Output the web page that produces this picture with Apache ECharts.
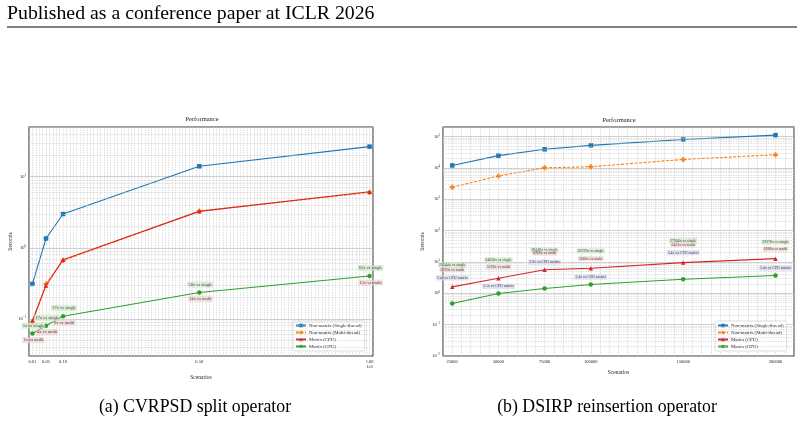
<!DOCTYPE html>
<html><head><meta charset="utf-8">
<script src="https://cdn.jsdelivr.net/npm/echarts@6/dist/echarts.min.js"></script>
<style>html,body{margin:0;padding:0;background:#fff}#c{width:804px;height:423px}</style>
</head><body><div id="c"></div>
<script>
// ---------- (a) CVRPSD split operator ----------
const aScenarios = [0.01, 0.05, 0.10, 0.50, 1.00]; // x 1e6
const aSingle = [0.31, 1.35, 2.98, 14.0, 26.5];
const aMulti  = [0.090, 0.31, 0.66, 3.3, 6.0];
const aCPU    = [0.094, 0.295, 0.68, 3.25, 6.15];
const aGPU    = [0.062, 0.080, 0.109, 0.235, 0.40];
const aVsSingle = ['5x vs single', '17x vs single', '27x vs single', '58x vs single', '65x vs single'];
const aVsMulti  = ['1x vs multi', '4x vs multi', '6x vs multi', '14x vs multi', '15x vs multi'];
const aTickLabels = ['0.01', '0.05', '0.10', '0.50', '1.00'];

// ---------- (b) DSIRP reinsertion operator ----------
const bScenarios = [25000, 50000, 75000, 100000, 150000, 200000];
const bSingle = [11900, 24400, 38900, 52000, 80000, 110000];
const bMulti  = [2380, 5500, 10000, 10800, 18500, 26000];
const bCPU    = [1.6, 3.0, 5.6, 6.3, 9.5, 12.7];
const bGPU    = [0.47, 0.98, 1.42, 1.9, 2.8, 3.7];
const bVsSingle = ['25344x vs single', '24636x vs single', '28448x vs single', '26739x vs single', '27946x vs single', '29370x vs single'];
const bVsMulti  = ['5070x vs multi', '5578x vs multi', '6968x vs multi', '5666x vs multi', '6431x vs multi', '6986x vs multi'];
const bVsCPU    = ['3.4x vs CPU matrix', '3.1x vs CPU matrix', '3.9x vs CPU matrix', '3.4x vs CPU matrix', '3.4x vs CPU matrix', '3.4x vs CPU matrix'];
const bTickLabels = ['25000', '50000', '75000', '100000', '150000', '200000'];

const seriesNames = ['Non-matrix (Single-thread)', 'Non-matrix (Multi-thread)', 'Matrix (CPU)', 'Matrix (GPU)'];

// ---------- styling / layout ----------
const SERIF = "'Liberation Serif', 'DejaVu Serif', serif";
const COLORS = ['#1f77b4', '#ff7f0e', '#d62728', '#2ca02c'];
const SYMBOLS = ['rect', 'path://M3,0H7V3H10V7H7V10H3V7H0V3H3Z', 'triangle', 'circle'];
const BG_SINGLE = 'rgba(205,232,200,0.85)';
const BG_MULTI = 'rgba(240,210,210,0.85)';
const BG_CPU = 'rgba(215,215,240,0.9)';
// label offsets (px)
const aOffSingle = [1, -8], aOffMulti = [1, 6.5];
const bOffSingle = [[0,-22],[0,-18.4],[0,-20],[0,-17.4],[0,-22],[0,-16.6]];
const bOffMulti  = [[0,-17],[0,-11.4],[0,-16.6],[0,-9.7],[0,-18],[0,-9.6]];
const bOffCPU    = [[0,-9],[0,8],[0,-7.6],[0,9],[0,-10],[0,9.4]];

function pairs(xs, ys) { return xs.map((x, i) => [x, ys[i]]); }
function annItems(xs, ys, texts, offs, bg) {
  return xs.map((x, i) => ({
    value: [x, ys[i]],
    label: { formatter: texts[i], offset: Array.isArray(offs[0]) ? offs[i] : offs, backgroundColor: bg }
  }));
}
function minorLogLines(lo, hi) {
  const out = [];
  for (let k = -3; k <= 6; k++) for (let m = 2; m <= 9; m++) {
    const v = m * Math.pow(10, k);
    if (v > lo && v < hi) out.push({ yAxis: v });
  }
  return out;
}
function logLabel(v) {
  const e = Math.log10(v);
  const r = Math.round(e);
  if (Math.abs(e - r) > 1e-6) return '';
  return '10{s|' + (r < 0 ? '\u2212' + (-r) : r) + '}';
}

function dataSeries(idx, xs, lists, size) {
  return lists.map((ys, k) => ({
    name: seriesNames[k], type: 'line', xAxisIndex: idx, yAxisIndex: idx,
    data: pairs(xs, ys), symbol: SYMBOLS[k], symbolSize: k === 1 ? size + 0.5 : size,
    color: COLORS[k], z: 3 + k,
    lineStyle: { width: 1.1, type: k === 1 ? [3, 1.5] : 'solid' },
    itemStyle: { color: COLORS[k] }, animation: false
  }));
}
function annSeries(idx, items, fs) {
  return {
    type: 'scatter', xAxisIndex: idx, yAxisIndex: idx, symbolSize: 0, silent: true, z: 10,
    data: items, animation: false,
    label: { show: true, position: 'inside', fontSize: fs, fontFamily: SERIF, color: '#222', padding: [0.6, 1], borderRadius: 0.5 }
  };
}
function gridSeries(idx, lo, hi) {
  return {
    type: 'line', xAxisIndex: idx, yAxisIndex: idx, data: [], z: 1, silent: true, animation: false,
    markLine: { silent: true, symbol: 'none', animation: false, label: { show: false },
      lineStyle: { color: '#c6c6c6', width: 0.55, type: [1.5, 1] }, data: minorLogLines(lo, hi) }
  };
}

const axisText = { fontSize: 4.5, fontFamily: SERIF, color: '#222' };
const yAxisCommon = (min, max, gap) => ({
  type: 'log', logBase: 10, min: min, max: max,
  axisLine: { show: false }, axisTick: { show: false },
  splitLine: { show: true, lineStyle: { color: '#b0b0b0', width: 0.6 } },
  axisLabel: Object.assign({}, axisText, { margin: 3, formatter: logLabel, rich: { s: { fontSize: 3, fontFamily: SERIF, verticalAlign: 'top', padding: [0, 0, 3, 0] } } }),
  name: 'Seconds', nameLocation: 'middle', nameGap: gap,
  nameTextStyle: { fontSize: 5.5, fontFamily: SERIF, color: '#222' }
});
const legendCommon = {
  data: seriesNames, orient: 'vertical', top: 321, itemWidth: 10, itemHeight: 4.5, itemGap: 2,
  padding: [2, 3, 2, 2], backgroundColor: '#fff', borderColor: '#c8c8c8', borderWidth: 0.6, borderRadius: 1.5,
  textStyle: { fontSize: 4.8, fontFamily: SERIF, color: '#222', padding: [0, 0, 0, -2] }, selectedMode: false
};

const option = {
  animation: false,
  backgroundColor: '#fff',
  grid: [
    { left: 29, top: 127, width: 344, height: 229, show: true, borderColor: '#3a3a3a', borderWidth: 1.1, backgroundColor: 'transparent' },
    { left: 443, top: 127, width: 351, height: 229, show: true, borderColor: '#3a3a3a', borderWidth: 1.1, backgroundColor: 'transparent' }
  ],
  xAxis: [
    { gridIndex: 0, type: 'value', min: 0, max: 1.01, interval: 0.01,
      axisLine: { show: false }, axisTick: { show: false },
      splitLine: { show: true, lineStyle: { color: '#c6c6c6', width: 0.55, type: [1.5, 1] } },
      axisLabel: Object.assign({}, axisText, { margin: 3, customValues: aScenarios, lineHeight: 5.5,
        formatter: v => { const i = aScenarios.findIndex(s => Math.abs(s - v) < 1e-9); return i < 0 ? '' : (i === aScenarios.length - 1 ? aTickLabels[i] + '\n1e6' : aTickLabels[i]); } }),
      name: 'Scenarios', nameLocation: 'middle', nameGap: 14,
      nameTextStyle: { fontSize: 5.5, fontFamily: SERIF, color: '#222' } },
    { gridIndex: 1, type: 'value', min: 20000, max: 210000, interval: 5000,
      axisLine: { show: false }, axisTick: { show: false },
      splitLine: { show: true, lineStyle: { color: '#c6c6c6', width: 0.55, type: [1.5, 1] } },
      axisLabel: Object.assign({}, axisText, { margin: 3, customValues: bScenarios,
        formatter: v => { const i = bScenarios.indexOf(v); return i < 0 ? '' : bTickLabels[i]; } }),
      name: 'Scenarios', nameLocation: 'middle', nameGap: 14,
      nameTextStyle: { fontSize: 5.5, fontFamily: SERIF, color: '#222' } }
  ],
  yAxis: [
    Object.assign({ gridIndex: 0 }, yAxisCommon(0.03, 50, 15)),
    Object.assign({ gridIndex: 1 }, yAxisCommon(0.01, 200000, 17))
  ],
  legend: [
    Object.assign({ left: 293 }, legendCommon),
    Object.assign({ left: 715 }, legendCommon)
  ],
  graphic: [
    { type: 'text', x: 7, y: 14, style: { text: 'Published as a conference paper at ICLR 2026', fontSize: 19.8, fontFamily: SERIF, fill: '#000', verticalAlign: 'middle', align: 'left' } },
    { type: 'line', shape: { x1: 7, y1: 27, x2: 797, y2: 27 }, style: { stroke: '#000', lineWidth: 1 } },
    { type: 'text', x: 202, y: 119, style: { text: 'Performance', fontSize: 6.5, fontFamily: SERIF, fill: '#222', verticalAlign: 'middle', align: 'center' } },
    { type: 'text', x: 619, y: 120, style: { text: 'Performance', fontSize: 6.5, fontFamily: SERIF, fill: '#222', verticalAlign: 'middle', align: 'center' } },
    { type: 'text', x: 195, y: 407, style: { text: '(a) CVRPSD split operator', fontSize: 17.8, fontFamily: SERIF, fill: '#000', verticalAlign: 'middle', align: 'center' } },
    { type: 'text', x: 607, y: 407, style: { text: '(b) DSIRP reinsertion operator', fontSize: 17.8, fontFamily: SERIF, fill: '#000', verticalAlign: 'middle', align: 'center' } }
  ],
  series: [].concat(
    [gridSeries(0, 0.03, 50), gridSeries(1, 0.01, 200000)],
    dataSeries(0, aScenarios, [aSingle, aMulti, aCPU, aGPU], 4.5),
    dataSeries(1, bScenarios, [bSingle, bMulti, bCPU, bGPU], 4.5),
    [
      annSeries(0, annItems(aScenarios, aGPU, aVsSingle, aOffSingle, BG_SINGLE), 4.5),
      annSeries(0, annItems(aScenarios, aGPU, aVsMulti, aOffMulti, BG_MULTI), 4.5),
      annSeries(1, annItems(bScenarios, bCPU, bVsSingle, bOffSingle, BG_SINGLE), 3.9),
      annSeries(1, annItems(bScenarios, bCPU, bVsMulti, bOffMulti, BG_MULTI), 3.9),
      annSeries(1, annItems(bScenarios, bCPU, bVsCPU, bOffCPU, BG_CPU), 3.9)
    ]
  )
};
const chart = echarts.init(document.getElementById('c'), null, { renderer: 'canvas' });
chart.setOption(option);
</script></body></html>
